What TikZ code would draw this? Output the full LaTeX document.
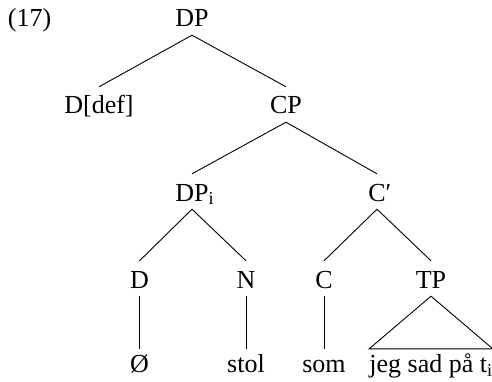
\documentclass[tikz,border=0pt]{standalone}
\usepackage{fontspec}
\setmainfont{Liberation Serif}
\begin{document}
\begin{tikzpicture}[x=1pt,y=-1pt,
  font=\fontsize{26}{30}\selectfont,
  lab/.style={anchor=base,inner xsep=0pt,inner ysep=3pt,text height=24pt,text depth=5pt},
  leaf/.style={anchor=base,inner xsep=0pt,inner ysep=3pt,text height=20.5pt,text depth=5pt},
  branch/.style={line width=0.9pt}]
\useasboundingbox (0,0) rectangle (492,382);
\node[anchor=base,inner sep=0pt] (ex) at (29.5,27) {(17)};
\node[lab] (dp) at (192,27) {DP};
\node[lab] (ddef) at (99,114) {D[def]};
\node[lab] (cp) at (286,114) {CP};
\node[lab] (dpi) at (192,201) {DP\rlap{\textsubscript{i}}};
\node[lab] (cbar) at (377,201) {C\rlap{′}};
\node[lab] (d) at (139.5,288) {D};
\node[lab] (n) at (246,288) {N};
\node[lab] (c) at (324,288) {C};
\node[lab] (tp) at (431,288) {TP};
\node[leaf] (o) at (139.5,372.5) {Ø};
\node[leaf] (stol) at (246,372.5) {stol};
\node[leaf] (som) at (324,372.5) {som};
\node[leaf] (jeg) at (431,372.5) {jeg sad på t\textsubscript{i}};
\draw[branch] (dp.south) -- (ddef.north);
\draw[branch] (dp.south) -- (cp.north);
\draw[branch] (cp.south) -- (dpi.north);
\draw[branch] (cp.south) -- (cbar.north);
\draw[branch] (dpi.south) -- (d.north);
\draw[branch] (dpi.south) -- (n.north);
\draw[branch] (cbar.south) -- (c.north);
\draw[branch] (cbar.south) -- (tp.north);
\draw[branch] (d.south) -- (o.north);
\draw[branch] (n.south) -- (stol.north);
\draw[branch] (c.south) -- (som.north);
\draw[branch] (tp.south) -- (jeg.north west) -- (jeg.north east) -- cycle;
\end{tikzpicture}
\end{document}
